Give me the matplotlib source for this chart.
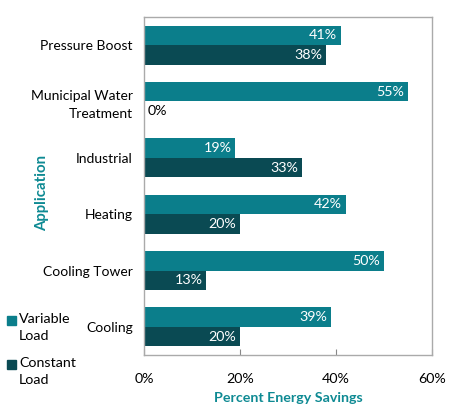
import matplotlib
matplotlib.use("Agg")
import matplotlib.pyplot as plt
from matplotlib.patches import Rectangle
import numpy as np

categories = ["Pressure Boost", "Municipal Water\nTreatment", "Industrial", "Heating", "Cooling Tower", "Cooling"]
variable_load = [41, 55, 19, 42, 50, 39]
constant_load = [38, 0, 33, 20, 13, 20]
series_names = ["Variable\nLoad", "Constant\nLoad"]
xticks = [0, 20, 40, 60]
xtick_labels = ["0%", "20%", "40%", "60%"]

c_var = "#0B7E8B"
c_con = "#0A4A53"
c_title = "#0E8A93"
FS = 10

plt.rcParams['font.family'] = ['Lato', 'DejaVu Sans']
plt.rcParams['font.size'] = FS

fig = plt.figure(figsize=(4.5, 4.09), dpi=100)
ax = fig.add_axes([144/450, 1-355/409, (432-144)/450, (355-17)/409])

y = np.arange(len(categories))
h = 0.345
b1 = ax.barh(y - h/2, variable_load, height=h, color=c_var)
b2 = ax.barh(y + h/2, constant_load, height=h, color=c_con)

for bars, vals in ((b1, variable_load), (b2, constant_load)):
    for bar, v in zip(bars, vals):
        yc = bar.get_y() + bar.get_height()/2
        if v > 5:
            ax.text(v - 0.8, yc, f"{v}%", color="white", ha="right", va="center", fontsize=FS + 0.3)
        else:
            ax.text(v + 0.8, yc, f"{v}%", color="black", ha="left", va="center", fontsize=FS + 0.3)

ax.set_ylim(len(categories) - 0.5, -0.5)
ax.set_xlim(0, 60)
ax.set_yticks(y)
ax.set_yticklabels(categories, fontsize=FS, linespacing=1.55)
ax.tick_params(axis='y', length=0, pad=8)
ax.set_xticks(xticks)
ax.set_xticklabels(xtick_labels, fontsize=FS + 0.3)
ax.tick_params(axis='x', direction='in', length=4, color="#888888", pad=13)
for s in ax.spines.values():
    s.set_color("#AAAAAA")
    s.set_linewidth(1)

ax.set_xlabel("Percent Energy Savings", color=c_title, fontweight="bold", fontsize=FS + 0.3, labelpad=5)
fig.text(42/450, 1-193/409, "Application", color=c_title, fontweight="bold", fontsize=FS + 0.8,
         rotation=90, ha="center", va="center")

# legend drawn manually at lower left
leg_colors = [c_var, c_con]
leg_tops = [316, 360]
for col, top, name in zip(leg_colors, leg_tops, series_names):
    fig.patches.append(Rectangle((7/450, 1-(top+9)/409), 9/450, 9/409,
                                 transform=fig.transFigure, color=col))
    fig.text(19/450, 1-(top-3)/409, name, ha="left", va="top", fontsize=FS + 0.3, linespacing=1.55)

fig.savefig("out.png", dpi=100)
